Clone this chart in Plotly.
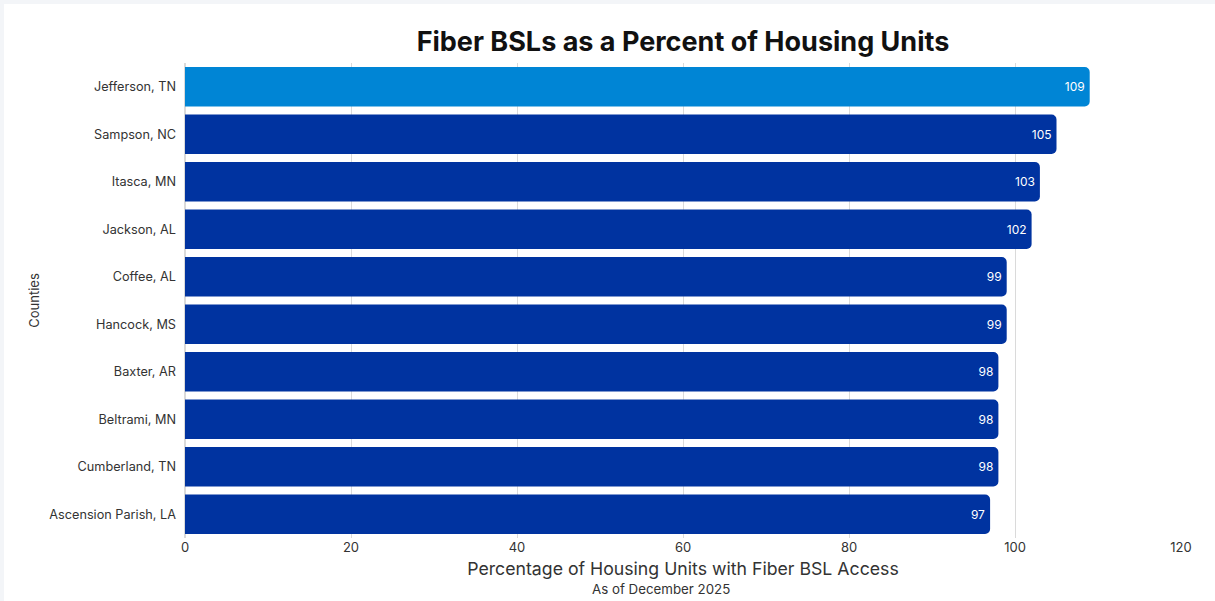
import plotly.graph_objects as go

counties = ["Jefferson, TN", "Sampson, NC", "Itasca, MN", "Jackson, AL", "Coffee, AL",
            "Hancock, MS", "Baxter, AR", "Beltrami, MN", "Cumberland, TN", "Ascension Parish, LA"]
values = [109, 105, 103, 102, 99, 99, 98, 98, 98, 97]
highlight = "Jefferson, TN"
x_ticks = [0, 20, 40, 60, 80, 100, 120]

colors = ["#0085d5" if c == highlight else "#0033a0" for c in counties]

FONT = "Inter, Open Sans, sans-serif"
W, H = 1215, 601
ml, mr, mt, mb = 185, 34, 63, 63

fig = go.Figure(go.Bar(
    x=values, y=counties, orientation="h",
    marker=dict(color=colors, line=dict(width=0)),
    text=[str(v) for v in values], textposition="inside", insidetextanchor="end",
    textfont=dict(color="white", size=12, family=FONT),
    cliponaxis=False,
))

pw = W - ml - mr
ph = H - mt - mb
# white card inset 4px from top/left
x0 = (4 - ml) / pw
x1 = (W - ml) / pw
y1 = (H - 4 - mb) / ph
y0 = (0 - mb) / ph
fig.add_shape(type="rect", xref="paper", yref="paper", x0=x0, x1=x1 + 0.01, y0=y0 - 0.01, y1=y1,
              fillcolor="white", line=dict(width=0), layer="below")

fig.update_layout(
    width=W, height=H,
    margin=dict(l=ml, r=mr, t=mt, b=mb),
    paper_bgcolor="#f3f5f8", plot_bgcolor="white",
    font=dict(family=FONT, color="#333333", size=12),
    title=dict(text="<b>Fiber BSLs as a Percent of Housing Units</b>", x=0.5, xref="paper",
               y=1 - 42 / H, yanchor="middle", font=dict(size=27, color="#111111", family=FONT)),
    bargap=0.17,
    barcornerradius=5,
    showlegend=False,
    xaxis=dict(range=[0, 120], tickvals=x_ticks, ticktext=[str(t) for t in x_ticks],
               showgrid=True, gridcolor="#dadada", gridwidth=1, zeroline=True, zerolinecolor="#dadada",
               showline=False, ticks="", tickfont=dict(size=13, color="#333333"),
               title=dict(text="Percentage of Housing Units with Fiber BSL Access",
                          font=dict(size=17.7, color="#333333"), standoff=8)),
    yaxis=dict(autorange="reversed", showgrid=False, ticks="", ticklabelstandoff=8,
               tickfont=dict(size=12.7, color="#333333"),
               title=dict(text="Counties", font=dict(size=13, color="#333333"), standoff=6)),
)

fig.add_annotation(text="As of December 2025", xref="paper", yref="paper",
                   x=(661 - ml) / pw, y=-(589 - (H - mb)) / ph, yanchor="middle", showarrow=False,
                   font=dict(size=13.3, color="#333333", family=FONT))

fig.write_html("out.html")
